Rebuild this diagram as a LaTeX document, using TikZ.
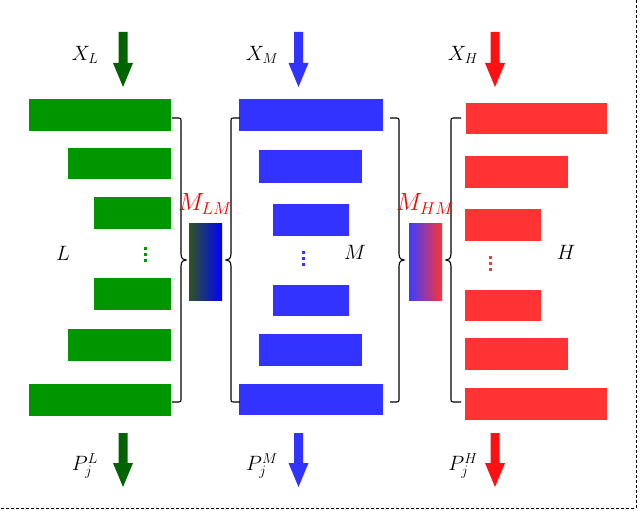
\documentclass[tikz,border=0pt]{standalone}
\definecolor{gbar}{RGB}{0,150,0}
\definecolor{bbar}{RGB}{51,51,255}
\definecolor{rbar}{RGB}{255,51,51}
\definecolor{garrow}{RGB}{0,100,0}
\definecolor{barrow}{RGB}{51,51,255}
\definecolor{rarrow}{RGB}{255,17,17}
\definecolor{mlmleft}{RGB}{45,85,35}
\definecolor{mlmright}{RGB}{0,0,255}
\definecolor{mhmleft}{RGB}{60,60,255}
\definecolor{mhmright}{RGB}{255,51,51}
\newcommand\mkbar[6]{\node[barbox, fill=#6, minimum width={#4-#2}, minimum height={#5-#3}] (#1) at ({(#2+#4)/2},{(#3+#5)/2}) {};}
% end x, vertical x, tip x, sign toward ends, y1, y2
\newcommand\mkbrace[6]{%
  \draw[bracestyle] (#1,#5) -- ({#2+4*#4},#5) .. controls (#2,#5) .. (#2,{#5+4})
    -- (#2,{(#5+#6)/2-6}) .. controls (#2,{(#5+#6)/2-1}) and ({#3+2*#4},{(#5+#6)/2}) .. (#3,{(#5+#6)/2})
    .. controls ({#3+2*#4},{(#5+#6)/2}) and (#2,{(#5+#6)/2+1}) .. (#2,{(#5+#6)/2+6})
    -- (#2,{#6-4}) .. controls (#2,#6) .. ({#2+4*#4},#6) -- (#1,#6);}
% x center, y top, y tip, colour
\newcommand\mkarrow[4]{\fill[#4] ({#1-4.5},#2) -- ({#1+4.5},#2) -- ({#1+4.5},{#3-24}) -- ({#1+10},{#3-24}) -- (#1,#3) -- ({#1-10},{#3-24}) -- ({#1-4.5},{#3-24}) -- cycle;}
\newcommand\mkdots[3]{\foreach \dd in {-6,0,6} {\fill[#3] ({#1-1.5},{#2+\dd-1.5}) rectangle ({#1+1.5},{#2+\dd+1.5});}}
\begin{document}
\begin{tikzpicture}[x=1pt,y=-1pt,
  font=\fontsize{22}{26}\selectfont,
  barbox/.style={rectangle, inner sep=0pt, outer sep=0pt, draw=none},
  bracestyle/.style={line width=1.1pt, black},
  lab/.style={inner sep=0pt},
  mlab/.style={inner sep=0pt, text=red, font=\fontsize{23}{27}\selectfont}]
\useasboundingbox (0,0) rectangle (640,511);
% frame (only right and bottom edges are visible)
\draw[line width=1pt, dash pattern=on 3pt off 2pt] (636,0) -- (636,508) -- (0,508);

% green column
\mkbar{g1}{29}{99}{171}{131}{gbar}
\mkbar{g2}{68}{148}{171}{179}{gbar}
\mkbar{g3}{94}{197}{171}{229}{gbar}
\mkbar{g4}{94}{278}{171}{310}{gbar}
\mkbar{g5}{68}{329}{171}{361}{gbar}
\mkbar{g6}{29}{384}{171}{416}{gbar}
\mkdots{145}{254}{gbar}
\node[lab] (L) at (63,253) {$L$};

% blue column
\mkbar{b1}{239}{99}{383}{131}{bbar}
\mkbar{b2}{259}{150}{362}{183}{bbar}
\mkbar{b3}{273}{204}{349}{236}{bbar}
\mkbar{b4}{273}{285}{349}{316}{bbar}
\mkbar{b5}{259}{334}{362}{366}{bbar}
\mkbar{b6}{239}{384}{383}{415}{bbar}
\mkdots{303}{258}{bbar}
\node[lab] (M) at (355,252) {$M$};

% red column
\mkbar{r1}{466}{103}{607}{134}{rbar}
\mkbar{r2}{465}{156}{568}{188}{rbar}
\mkbar{r3}{465}{209}{541}{241}{rbar}
\mkbar{r4}{465}{290}{541}{321}{rbar}
\mkbar{r5}{465}{338}{568}{370}{rbar}
\mkbar{r6}{465}{388}{607}{420}{rbar}
\mkdots{490}{263}{rbar}
\node[lab] (H) at (566,252) {$H$};

% braces
\mkbrace{172}{181}{186}{-1}{118}{402}
\mkbrace{240}{231}{226}{1}{118}{402}
\mkbrace{390}{399}{404}{-1}{118}{402}
\mkbrace{461}{451}{446}{1}{118}{402}

% mixing boxes
\node[barbox, minimum width=33, minimum height=77, left color=mlmleft, right color=mlmright] (mlm) at (205.5,261.5) {};
\node[mlab] (mlmlab) at (205,204) {$M_{LM}$};
\node[barbox, minimum width=33, minimum height=77, left color=mhmleft, right color=mhmright] (mhm) at (425.5,261.5) {};
\node[mlab] (mhmlab) at (425,204) {$M_{HM}$};

% input arrows
\mkarrow{123}{32}{87}{garrow}
\mkarrow{298.5}{32}{87}{barrow}
\mkarrow{495}{32}{87}{rarrow}
\node[lab] (xl) at (85,55) {$X_L$};
\node[lab] (xm) at (262,55) {$X_M$};
\node[lab] (xh) at (463,55) {$X_H$};

% output arrows
\mkarrow{123}{433}{487}{garrow}
\mkarrow{298.5}{433}{487}{barrow}
\mkarrow{495}{433}{487}{rarrow}
\node[lab] (pl) at (85,466) {$P_j^L$};
\node[lab] (pm) at (262,466) {$P_j^M$};
\node[lab] (ph) at (463,466) {$P_j^H$};
\end{tikzpicture}
\end{document}
